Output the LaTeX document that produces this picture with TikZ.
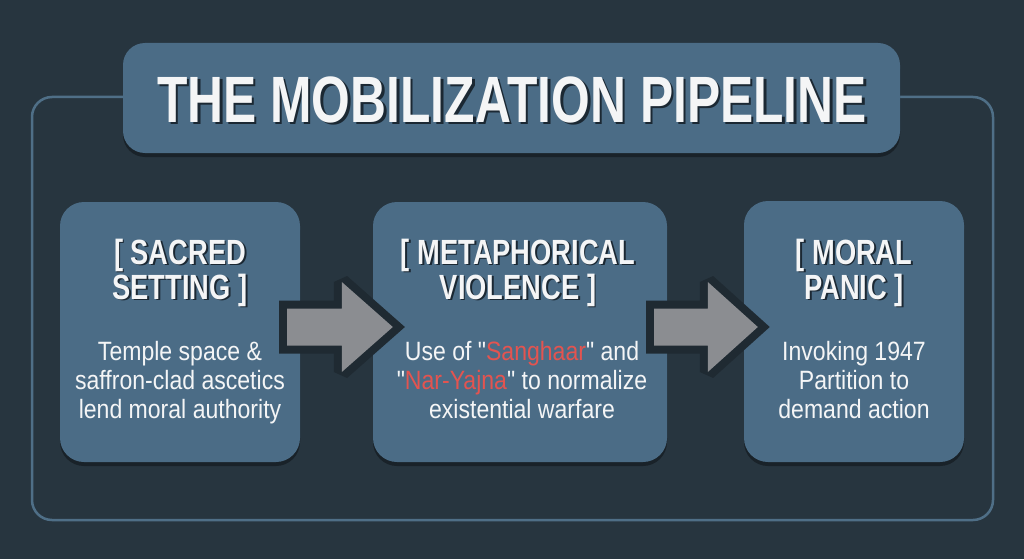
\documentclass[tikz,border=0pt]{standalone}
\usepackage{fontspec}
\usetikzlibrary{calc,shadows}
\newfontfamily\titlefont{Liberation Sans}[FakeStretch=0.76]
\newfontfamily\headfont{Liberation Sans}[FakeStretch=0.78]
\newfontfamily\bodyfont{Liberation Sans}[FakeStretch=0.87]
\definecolor{bgc}{HTML}{27353F}
\definecolor{boxc}{HTML}{4B6C86}
\definecolor{framec}{HTML}{4F6F87}
\definecolor{arrowc}{HTML}{8B8D91}
\definecolor{arrowline}{HTML}{1F2A32}
\definecolor{txtshadow}{HTML}{1B2833}
\definecolor{txtc}{HTML}{F4F5F6}
\definecolor{redc}{HTML}{E35450}
\newcommand\shd[2][2pt]{\leavevmode\rlap{\hspace{#1}\raisebox{-#1}{\color{txtshadow}#2}}#2}
\newcommand\rd[1]{\textcolor{redc}{#1}}
\tikzset{
  stagebox/.style={fill=boxc, rounded corners=24pt, inner sep=0pt,
    drop shadow={opacity=0.35, shadow xshift=0pt, shadow yshift=-4pt, fill=black}},
  titlebox/.style={fill=boxc, rounded corners=22pt, inner sep=0pt,
    drop shadow={opacity=0.35, shadow xshift=0pt, shadow yshift=-4pt, fill=black}},
  titletxt/.style={anchor=base, inner sep=0pt, text=txtc,
    font=\titlefont\bfseries\fontsize{65.5}{66}\selectfont},
  headtxt/.style={anchor=base, inner sep=0pt, text=txtc,
    font=\headfont\bfseries\fontsize{35}{35}\selectfont},
  bodytxt/.style={anchor=base, inner sep=0pt, text=txtc,
    font=\bodyfont\fontsize{26.5}{29}\selectfont},
  blockarrow/.style={fill=arrowc,
    preaction={draw=arrowline, line width=16pt, line join=miter, miter limit=2}},
}
\newcommand\blockarr[3]{%
  \path[blockarrow] ($(#1)+(0,-18.5)$) -- ($(#2)+(-#3,-18.5)$) -- ($(#2)+(-#3,-45)$)
    -- (#2) -- ($(#2)+(-#3,45)$) -- ($(#2)+(-#3,18.5)$) -- ($(#1)+(0,18.5)$) -- cycle;}
\begin{document}
\begin{tikzpicture}[x=1pt,y=-1pt]
\useasboundingbox (0,0) rectangle (1024,559);
\fill[bgc] (0,0) rectangle (1024,559);
% outer frame
\draw[framec, line width=2.5pt, rounded corners=20pt] (32,97) rectangle (993,520);
% title
\node[titlebox, minimum width=777pt, minimum height=110pt] (tbox) at (511.5,98) {};
\node[titletxt] (title) at (512,122) {\shd[2.5pt]{THE MOBILIZATION PIPELINE}};
% stage boxes
\node[stagebox, minimum width=240pt, minimum height=260pt] (b1) at (180,332) {};
\node[stagebox, minimum width=294pt, minimum height=260pt] (b2) at (520,332) {};
\node[stagebox, minimum width=220pt, minimum height=261pt] (b3) at (854,331.5) {};
% arrows
\coordinate (a1s) at ($(b1.east)+(-13,-5)$);
\coordinate (a1t) at ($(b2.west)+(20,-5)$);
\blockarr{a1s}{a1t}{51}
\coordinate (a2s) at ($(b2.east)+(-13,-5)$);
\coordinate (a2t) at ($(b3.west)+(14,-4.5)$);
\blockarr{a2s}{a2t}{50}
% box 1 text
\node[headtxt] (h1a) at (180,264) {\shd[1.8pt]{[ SACRED}};
\node[headtxt] (h1b) at (180,299) {\shd[1.8pt]{SETTING ]}};
\node[bodytxt] (t1a) at (180,360) {Temple space \&};
\node[bodytxt] (t1b) at (180,389) {saffron-clad ascetics};
\node[bodytxt] (t1c) at (180,418) {lend moral authority};
% box 2 text
\node[headtxt] (h2a) at (518,264) {\shd[1.8pt]{[ METAPHORICAL}};
\node[headtxt] (h2b) at (518,299) {\shd[1.8pt]{VIOLENCE ]}};
\node[bodytxt] (t2a) at (522,360) {Use of "\rd{Sanghaar}" and};
\node[bodytxt] (t2b) at (522,389) {"\rd{Nar-Yajna}" to normalize};
\node[bodytxt] (t2c) at (522,418) {existential warfare};
% box 3 text
\node[headtxt] (h3a) at (854,264) {\shd[1.8pt]{[ MORAL}};
\node[headtxt] (h3b) at (854,299) {\shd[1.8pt]{PANIC ]}};
\node[bodytxt] (t3a) at (854,360) {Invoking 1947};
\node[bodytxt] (t3b) at (854,389) {Partition to};
\node[bodytxt] (t3c) at (854,418) {demand action};
\end{tikzpicture}
\end{document}
